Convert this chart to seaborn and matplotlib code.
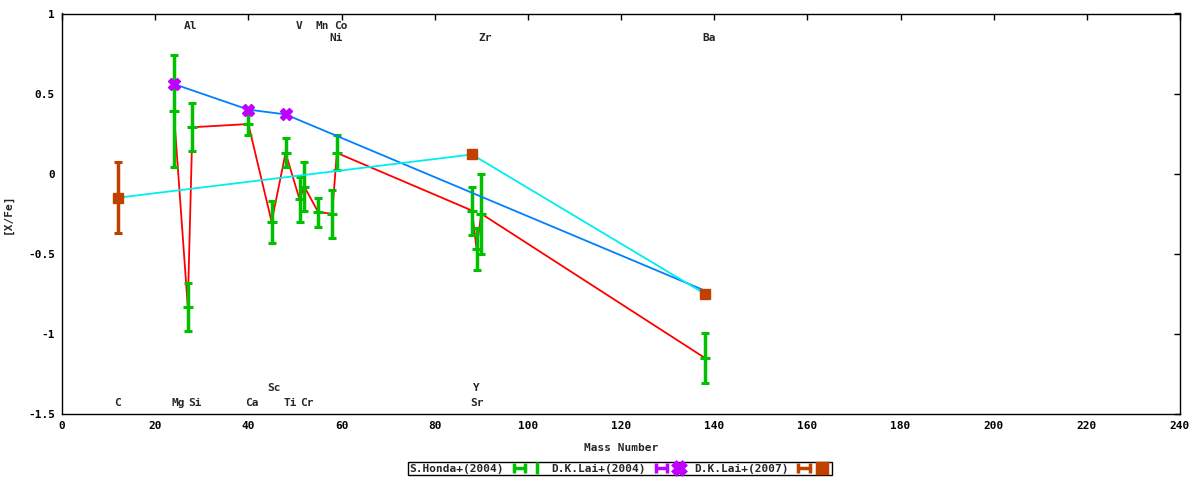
import matplotlib
matplotlib.use('Agg')
import matplotlib.pyplot as plt
import seaborn as sns
from matplotlib.lines import Line2D
from matplotlib.legend_handler import HandlerLine2D, HandlerTuple


# S.Honda+(2004)
honda_mass = [24, 27, 28, 40, 45, 48, 51, 52, 55, 58, 59, 88, 89, 90, 138]
honda_xfe = [0.39, -0.83, 0.29, 0.31, -0.30, 0.13, -0.16, -0.08, -0.24,
             -0.25, 0.13, -0.23, -0.47, -0.25, -1.15]
honda_err = [0.35, 0.15, 0.15, 0.07, 0.13, 0.09, 0.14, 0.15, 0.09,
             0.15, 0.11, 0.15, 0.13, 0.25, 0.155]

# D.K.Lai+(2004)
lai04_mass = [24, 40, 48, 138]
lai04_xfe = [0.56, 0.40, 0.37, -0.73]

# D.K.Lai+(2007)
lai07_mass = [12, 88, 138]
lai07_xfe = [-0.15, 0.12, -0.75]
lai07_err = [0.22, 0.0, 0.0]

# element labels (mass, [X/Fe] where the text sits)
elem_names = ['Al', 'V', 'Mn', 'Co', 'Ni', 'Zr', 'Ba',
              'C', 'Mg', 'Si', 'Ca', 'Sc', 'Ti', 'Cr', 'Y', 'Sr']
elem_x = [27.5, 50.9, 55.8, 59.8, 58.8, 90.8, 138.9,
          12.0, 25.0, 28.6, 40.8, 45.6, 49.0, 52.6, 89.0, 89.0]
elem_y = [0.92, 0.92, 0.92, 0.92, 0.847, 0.847, 0.847,
          -1.43, -1.43, -1.43, -1.43, -1.335, -1.43, -1.43, -1.335, -1.43]

RED = '#ff0000'
GREEN = '#00c000'
BLUE = '#0080ff'
MAGENTA = '#c000ff'
CYAN = '#00eeee'
BROWN = '#c04000'

sns.set_style('white')
plt.rcParams['font.family'] = ['DejaVu Sans Mono', 'DejaVu Sans']
plt.rcParams['font.weight'] = 'bold'
plt.rcParams['font.size'] = 8

fig = plt.figure(figsize=(12, 4.8), dpi=100)
ax = fig.add_axes([62 / 1200, 1 - 414 / 480, 1118 / 1200, 400.5 / 480])

bar_kw = dict(ls='none', elinewidth=2.5, capsize=2.7, capthick=2.2)

sns.lineplot(x=honda_mass, y=honda_xfe, color=RED, lw=1.3, sort=False,
             estimator=None, ax=ax, zorder=2)
ax.errorbar(honda_mass, honda_xfe, yerr=honda_err, color=GREEN, marker='_',
            ms=7, mew=2.2, zorder=3, **bar_kw)

sns.lineplot(x=lai04_mass, y=lai04_xfe, color=BLUE, lw=1.3, sort=False,
             estimator=None, ax=ax, zorder=4)
ax.plot(lai04_mass[:-1], lai04_xfe[:-1], ls='none', marker='X', ms=8,
        color=MAGENTA, mec=MAGENTA, zorder=5)

sns.lineplot(x=lai07_mass, y=lai07_xfe, color=CYAN, lw=1.3, sort=False,
             estimator=None, ax=ax, zorder=6)
ax.errorbar(lai07_mass, lai07_xfe, yerr=lai07_err, color=BROWN, marker='s',
            ms=7, mec=BROWN, zorder=7, **bar_kw)

for name, x, y in zip(elem_names, elem_x, elem_y):
    ax.text(x, y, name, ha='center', va='center', fontsize=8,
            fontweight='bold', zorder=8)

ax.set_xlim(0, 240)
ax.set_ylim(-1.5, 1)
ax.set_xticks(range(0, 241, 20))
ax.set_yticks([-1.5, -1, -0.5, 0, 0.5, 1])
ax.set_yticklabels(['-1.5', '-1', '-0.5', '0', '0.5', '1'])
ax.tick_params(direction='in', length=4, width=1, top=True, right=True,
               labelsize=8, pad=5, colors='black')
for sp in ax.spines.values():
    sp.set_color('black')
    sp.set_linewidth(1)

ax.set_xlabel('Mass Number', fontsize=8, fontweight='bold')
ax.set_ylabel('[X/Fe]', fontsize=8, fontweight='bold')
ax.xaxis.set_label_coords(0.5, -0.072)
ax.yaxis.set_label_coords(-0.044, 0.5)

# gnuplot style key: text first, then an errorbar sample
def key_handle(color, marker, ms):
    caps = Line2D([0], [0], color=color, lw=2.5, marker='|', ms=7, mew=2.5)
    mid = Line2D([0], [0], color=color, lw=0, marker=marker, ms=ms,
                 mew=2.5, mec=color, mfc=color)
    return caps, mid

h1 = key_handle(GREEN, '|', 8)
h2 = key_handle(MAGENTA, 'X', 8)
h3 = key_handle(BROWN, 's', 7)
hmap = {h[0]: HandlerLine2D(numpoints=2) for h in (h1, h2, h3)}
hmap.update({h[1]: HandlerLine2D(numpoints=1) for h in (h1, h2, h3)})
hmap[tuple] = HandlerTuple(ndivide=None, pad=0)

leg = fig.legend([h1, h2, h3],
                 ['S.Honda+(2004)', 'D.K.Lai+(2004)', 'D.K.Lai+(2007)'],
                 handler_map=hmap, loc='center',
                 bbox_to_anchor=(620 / 1200, 1 - 468.5 / 480),
                 ncol=3, markerfirst=False, fontsize=8, frameon=True,
                 fancybox=False, framealpha=1, edgecolor='black',
                 borderpad=0.15, handlelength=3.2, handletextpad=0.6,
                 columnspacing=0.5, borderaxespad=0)
leg.get_frame().set_linewidth(1)

fig.savefig('out.png', dpi=100)
